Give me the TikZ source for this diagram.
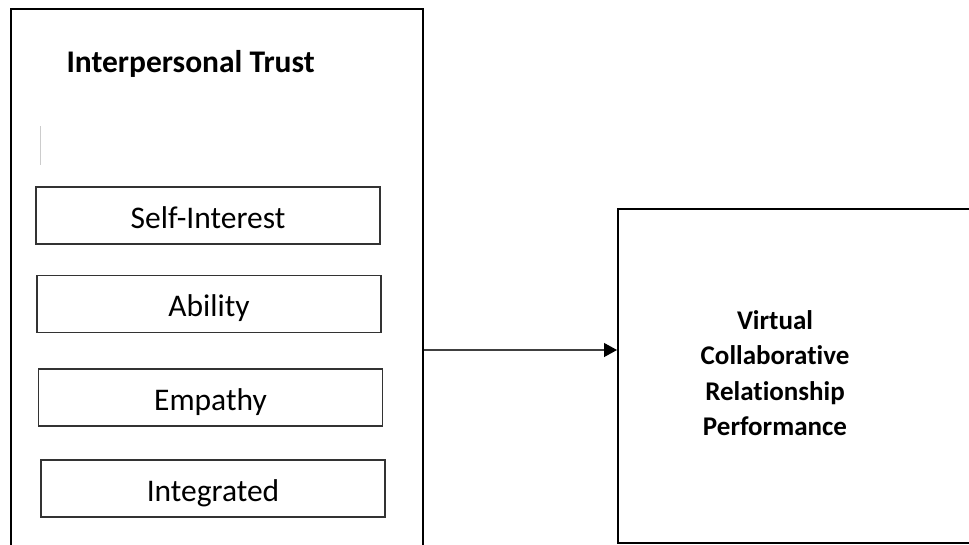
\documentclass[tikz,border=0pt]{standalone}
\usepackage{fontspec}
\setmainfont[Ligatures={NoCommon,NoRare}]{Carlito}
\usetikzlibrary{arrows.meta}
\tikzset{
  outerbox/.style={draw=black, line width=2.2pt, minimum width=412pt, minimum height=545pt, inner sep=0pt},
  itembox/.style={draw=black!80, line width=1.3pt, minimum width=344pt, minimum height=57pt,
    inner sep=0pt, text height=25pt, text depth=0pt, font=\fontsize{31.5}{35}\selectfont},
  resultbox/.style={draw=black, line width=2.2pt, minimum width=360pt, minimum height=334pt, inner sep=0pt},
  link/.style={draw=black!75, line width=1.2pt, -{Triangle[length=13pt,width=14pt,black]}},
}
\begin{document}
\begin{tikzpicture}[x=1pt, y=-1pt]
  \useasboundingbox (0,0) rectangle (969,544);

  % construct block with its dimensions
  \node[outerbox, anchor=north west] (trust) at (10,8) {};
  \node[anchor=base west, font=\bfseries\fontsize{31.5}{35}\selectfont] (title) at (63,72) {Interpersonal Trust};
  \draw[black!20, line width=0.8pt] (40,126) -- (40,165);

  \node[itembox] (self) at (208,215.5) {Self-Interest};
  \node[itembox] (ability) at (209,304) {Ability};
  \node[itembox] (empathy) at (210.5,397.5) {Empathy};
  \node[itembox] (integ) at (213,488.5) {Integrated};

  % outcome block
  \node[resultbox, anchor=north west] (perf) at (617,208) {};
  \node[align=center, font=\bfseries\fontsize{27}{35.3}\selectfont] (perftext) at (775,373)
    {Virtual\\Collaborative\\Relationship\\Performance};

  % effect of trust on performance
  \path (trust.north east) ++(0,342) coordinate (src);
  \draw[link] (src) -- (src -| perf.west);
\end{tikzpicture}
\end{document}
